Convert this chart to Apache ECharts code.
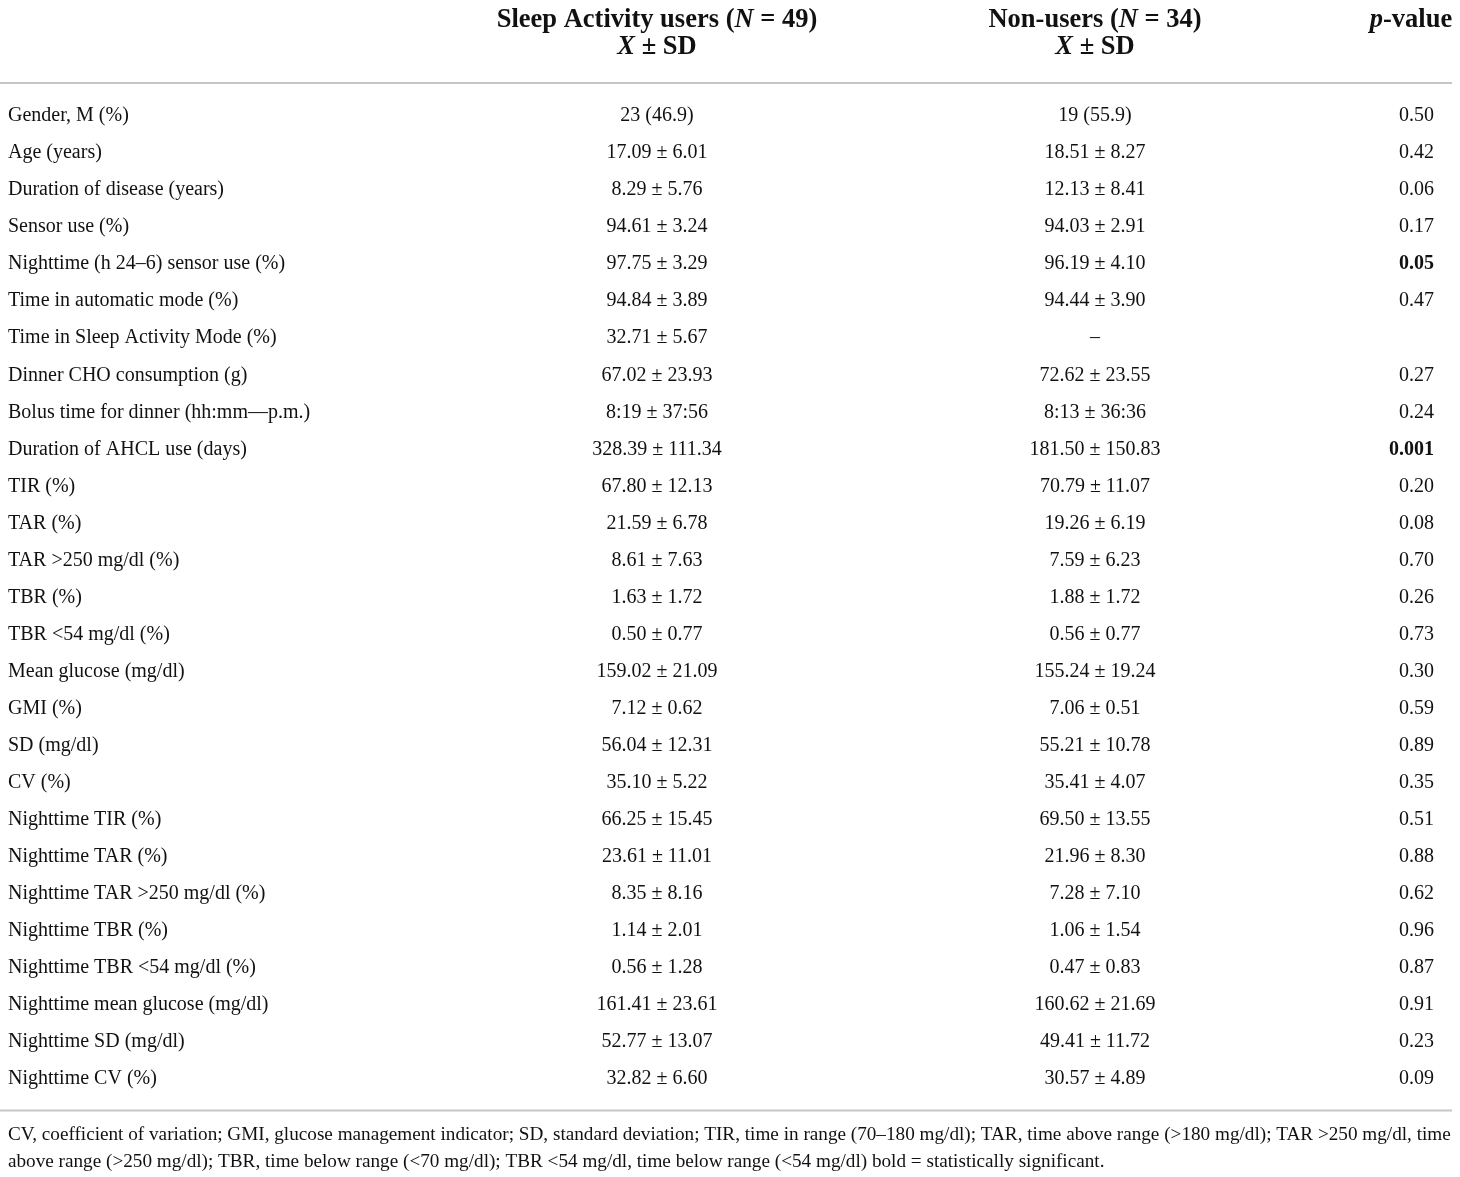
<!DOCTYPE html>
<html>
<head>
<meta charset="utf-8">
<script src="https://cdn.jsdelivr.net/npm/echarts@6.0.0/dist/echarts.min.js"></script>
<style>
    html, body {margin: 0; padding: 0; background: #fff;}
    #table {width: 1460px; height: 1177px;}
</style>
</head>
<body>
<div id="table"></div>
<script>
const rowLabels = [
    'Gender, M (%)', 'Age (years)', 'Duration of disease (years)', 'Sensor use (%)',
    'Nighttime (h 24–6) sensor use (%)', 'Time in automatic mode (%)', 'Time in Sleep Activity Mode (%)',
    'Dinner CHO consumption (g)', 'Bolus time for dinner (hh:mm—p.m.)', 'Duration of AHCL use (days)',
    'TIR (%)', 'TAR (%)', 'TAR >250 mg/dl (%)', 'TBR (%)', 'TBR <54 mg/dl (%)', 'Mean glucose (mg/dl)',
    'GMI (%)', 'SD (mg/dl)', 'CV (%)', 'Nighttime TIR (%)', 'Nighttime TAR (%)',
    'Nighttime TAR >250 mg/dl (%)', 'Nighttime TBR (%)', 'Nighttime TBR <54 mg/dl (%)',
    'Nighttime mean glucose (mg/dl)', 'Nighttime SD (mg/dl)', 'Nighttime CV (%)'
];
const usersValues = [
    '23 (46.9)', '17.09 ± 6.01', '8.29 ± 5.76', '94.61 ± 3.24', '97.75 ± 3.29', '94.84 ± 3.89',
    '32.71 ± 5.67', '67.02 ± 23.93', '8:19 ± 37:56', '328.39 ± 111.34', '67.80 ± 12.13',
    '21.59 ± 6.78', '8.61 ± 7.63', '1.63 ± 1.72', '0.50 ± 0.77', '159.02 ± 21.09', '7.12 ± 0.62',
    '56.04 ± 12.31', '35.10 ± 5.22', '66.25 ± 15.45', '23.61 ± 11.01', '8.35 ± 8.16',
    '1.14 ± 2.01', '0.56 ± 1.28', '161.41 ± 23.61', '52.77 ± 13.07', '32.82 ± 6.60'
];
const nonUsersValues = [
    '19 (55.9)', '18.51 ± 8.27', '12.13 ± 8.41', '94.03 ± 2.91', '96.19 ± 4.10', '94.44 ± 3.90',
    '–', '72.62 ± 23.55', '8:13 ± 36:36', '181.50 ± 150.83', '70.79 ± 11.07',
    '19.26 ± 6.19', '7.59 ± 6.23', '1.88 ± 1.72', '0.56 ± 0.77', '155.24 ± 19.24', '7.06 ± 0.51',
    '55.21 ± 10.78', '35.41 ± 4.07', '69.50 ± 13.55', '21.96 ± 8.30', '7.28 ± 7.10',
    '1.06 ± 1.54', '0.47 ± 0.83', '160.62 ± 21.69', '49.41 ± 11.72', '30.57 ± 4.89'
];
const pValues = [
    '0.50', '0.42', '0.06', '0.17', '0.05', '0.47', '', '0.27', '0.24', '0.001', '0.20', '0.08',
    '0.70', '0.26', '0.73', '0.30', '0.59', '0.89', '0.35', '0.51', '0.88', '0.62', '0.96',
    '0.87', '0.91', '0.23', '0.09'
];
const colHeaders = [
    '{b|Sleep Activity users (}{bi|N}{b| = 49)}\n{bi|X}{b| ± SD}',
    '{b|Non-users (}{bi|N}{b| = 34)}\n{bi|X}{b| ± SD}',
    '{bi|p}{b|-value}\n{b| }'
];
const footnote = 'CV, coefficient of variation; GMI, glucose management indicator; SD, standard deviation; TIR, time in range (70–180 mg/dl); TAR, time above range (>180 mg/dl); TAR >250 mg/dl, time\n' +
    'above range (>250 mg/dl); TBR, time below range (<70 mg/dl); TBR <54 mg/dl, time below range (<54 mg/dl) bold = statistically significant.';

const FONT = '"Liberation Serif", "DejaVu Serif", serif';
const INK = '#111';
const RULE = '#c6c6c6';

const chart = echarts.init(document.getElementById('table'));

// one grid per column, all sharing the row band
const rowBand = {top: 97.5, bottom: 79.5};
const columns = [
    {left: 8, width: 2},        // row labels
    {left: 497, width: 320},    // users
    {left: 935, width: 320},    // non-users
    {left: 1370, width: 82}     // p-value
];

const headerRich = {
    b: {fontFamily: FONT, fontSize: 26.5, fontWeight: 'bold', color: INK, lineHeight: 27},
    bi: {fontFamily: FONT, fontSize: 26.5, fontWeight: 'bold', fontStyle: 'italic', color: INK, lineHeight: 27}
};

const grids = columns.map(c => ({left: c.left, width: c.width, top: rowBand.top, bottom: rowBand.bottom}));

const xAxes = columns.map((c, i) => ({
    type: 'category',
    gridIndex: i,
    position: 'top',
    data: i === 0 ? [''] : [colHeaders[i - 1]],
    axisLine: {show: false},
    axisTick: {show: false},
    axisLabel: {
        show: i !== 0,
        margin: 37,
        interval: 0,
        align: 'center',
        rich: headerRich
    }
}));

const yAxes = columns.map((c, i) => ({
    type: 'category',
    gridIndex: i,
    inverse: true,
    data: rowLabels,
    axisLine: {show: false},
    axisTick: {show: false},
    splitLine: {show: false},
    axisLabel: {
        show: i === 0,
        interval: 0,
        align: 'left',
        margin: 0,
        fontFamily: FONT,
        fontSize: 20,
        color: INK
    }
}));

function textSeries(idx, values, opts) {
    return {
        type: 'scatter',
        xAxisIndex: idx,
        yAxisIndex: idx,
        symbolSize: 0,
        itemStyle: {color: 'transparent', opacity: 1},
        silent: true,
        data: values.map((v, i) => {
            const item = {value: [0, i, v]};
            if (opts.boldSig && v !== '' && parseFloat(v) <= 0.05) {
                item.label = {fontWeight: 'bold'};
            }
            return item;
        }),
        label: {
            show: true,
            position: 'inside',
            formatter: p => p.data.value[2],
            fontFamily: FONT,
            fontSize: 20,
            color: INK,
            opacity: 1,
            align: opts.align || 'center',
            offset: opts.offset || [0, 0]
        }
    };
}

const option = {
    backgroundColor: '#fff',
    animation: false,
    title: {
        text: footnote,
        left: 8,
        top: 1121,
        padding: 0,
        textStyle: {fontFamily: FONT, fontSize: 19.2, fontWeight: 'normal', color: INK, lineHeight: 27}
    },
    grid: grids,
    xAxis: xAxes,
    yAxis: yAxes,
    series: [
        textSeries(1, usersValues, {}),
        textSeries(2, nonUsersValues, {}),
        textSeries(3, pValues, {align: 'right', offset: [23, 0], boldSig: true})
    ],
    graphic: [
        {type: 'line', shape: {x1: 0, y1: 83, x2: 1452, y2: 83}, style: {stroke: RULE, lineWidth: 2}},
        {type: 'line', shape: {x1: 0, y1: 1110.5, x2: 1452, y2: 1110.5}, style: {stroke: RULE, lineWidth: 2}}
    ]
};

chart.setOption(option);
</script>
</body>
</html>
